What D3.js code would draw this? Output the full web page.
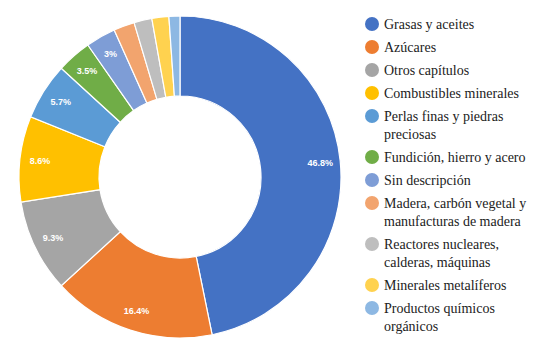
<!DOCTYPE html>
<html><head><meta charset="utf-8">
<script src="https://cdn.jsdelivr.net/npm/d3@7"></script>
<style>body{margin:0;background:#fff}svg{display:block}
.lg text{font-family:"Liberation Serif","Times New Roman",Times,serif;font-size:14px;fill:#222}
.lab{font-family:"Liberation Sans",Arial,sans-serif;font-size:9px;font-weight:bold;fill:#fff}
</style>
</head><body>
<svg id="c" width="547" height="357"></svg>
<script>
const categories = ["Grasas y aceites","Azúcares","Otros capítulos","Combustibles minerales","Perlas finas y piedras preciosas","Fundición, hierro y acero","Sin descripción","Madera, carbón vegetal y manufacturas de madera","Reactores nucleares, calderas, máquinas","Minerales metalíferos","Productos químicos orgánicos"];
const values = [46.8,16.4,9.3,8.6,5.7,3.5,3.0,2.1,1.8,1.7,1.1];
const labels = ["46.8%","16.4%","9.3%","8.6%","5.7%","3.5%","3%","","","",""];
const colors = ["#4472C4","#ED7D31","#A5A5A5","#FFC000","#5B9BD5","#70AD47","#7E9DD6","#F2A46E","#BEBEBE","#FFD24F","#8DB8E3"];

const svg = d3.select("#c");
const cx = 180, cy = 177, rOuter = 161, rInner = 81, rLabel = 141;
const pie = d3.pie().sort(null).value(d => d)(values);
const arc = d3.arc().innerRadius(rInner).outerRadius(rOuter);
const labelArc = d3.arc().innerRadius(rLabel).outerRadius(rLabel);
const g = svg.append("g").attr("transform", `translate(${cx},${cy})`);
g.selectAll("path").data(pie).join("path")
  .attr("d", arc).attr("fill", (d,i) => colors[i])
  .attr("stroke", "#fff").attr("stroke-width", 1.2);
g.selectAll("text").data(pie).join("text").attr("class", "lab")
  .attr("transform", d => `translate(${labelArc.centroid(d)})`)
  .attr("text-anchor", "middle").attr("dy", "0.35em")
  .text((d,i) => labels[i]);

// legend
const lg = svg.append("g").attr("class", "lg");
const lx = 372, tx = 384, maxW = 150, lineH = 18, gap = 23;
let y = 24;
categories.forEach((name, i) => {
  lg.append("circle").attr("cx", lx).attr("cy", y).attr("r", 7).attr("fill", colors[i]);
  const t = lg.append("text");
  const words = name.split(" ");
  let line = [], lines = 0;
  let ts = t.append("tspan").attr("x", tx).attr("y", y).attr("dy", "0.35em");
  words.forEach(w => {
    line.push(w);
    ts.text(line.join(" "));
    if (ts.node().getComputedTextLength() > maxW && line.length > 1) {
      line.pop(); ts.text(line.join(" "));
      line = [w]; lines++;
      ts = t.append("tspan").attr("x", tx).attr("y", y + lines*lineH).attr("dy", "0.35em").text(w);
    }
  });
  y += lines*lineH + gap;
});
</script>
</body></html>
